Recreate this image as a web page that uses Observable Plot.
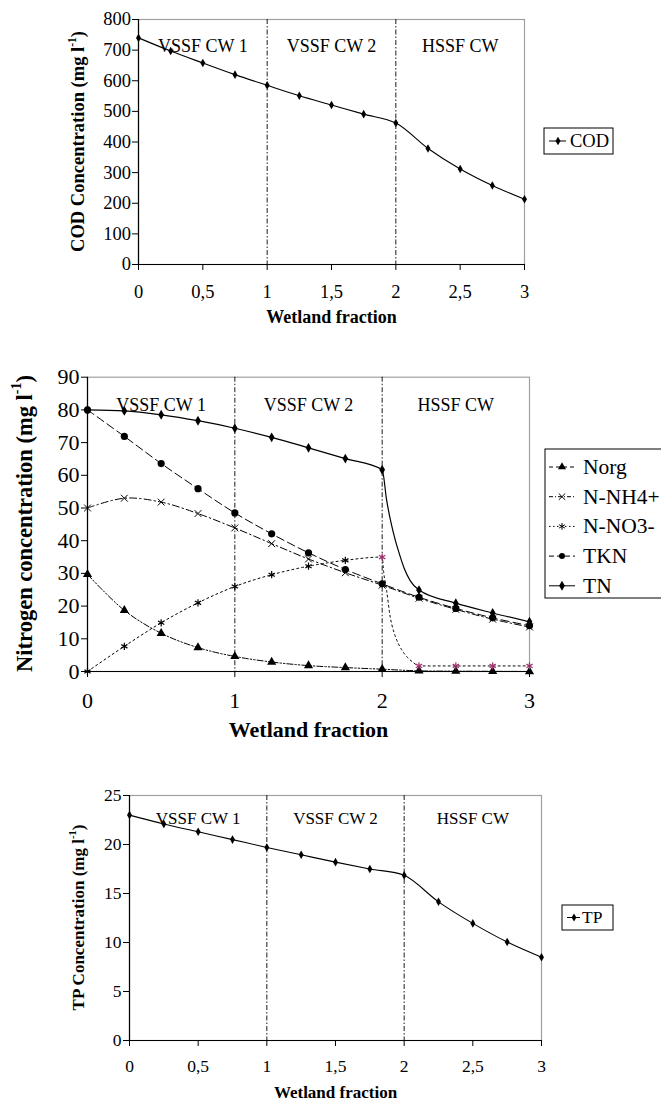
<!DOCTYPE html>
<html><head><meta charset="utf-8">
<script src="https://cdn.jsdelivr.net/npm/d3@7"></script>
<script src="https://cdn.jsdelivr.net/npm/@observablehq/plot@0.6"></script>
<style>
html,body{margin:0;padding:0;background:#fff;overflow:hidden}
#wrap{position:relative;width:661px;height:1109px;overflow:hidden}
.panel{position:absolute;left:0}
.panel svg{overflow:hidden}
</style>
</head><body><div id="wrap"></div>
<script>
// ---------- data ----------
const fraction = [0, 0.25, 0.5, 0.75, 1, 1.25, 1.5, 1.75, 2, 2.25, 2.5, 2.75, 3];
const cod  = [740, 697, 658, 620, 585, 551, 521, 491, 462, 379, 312, 258, 213];
const tp   = [23.0, 22.1, 21.3, 20.5, 19.7, 18.95, 18.2, 17.5, 16.85, 14.15, 11.95, 10.05, 8.5];
const norg = [29.7, 18.7, 11.7, 7.3, 4.6, 2.9, 1.8, 1.2, 0.7, 0.2, 0.1, 0.05, 0];
const nh4  = [50.0, 53.0, 51.8, 48.3, 43.9, 39.1, 34.4, 30.2, 26.4, 22.4, 19.0, 16.0, 13.6];
const no3  = [0, 7.7, 14.9, 21.0, 26.0, 29.6, 32.2, 34.0, 35.0, 1.7, 1.7, 1.7, 1.7];
const tkn  = [80.0, 71.9, 63.6, 55.9, 48.5, 42.1, 36.3, 31.2, 26.8, 22.7, 19.3, 16.4, 14.0];
const tn   = [80.0, 79.7, 78.5, 76.7, 74.4, 71.6, 68.4, 65.1, 61.7, 24.9, 20.9, 17.9, 15.2];

// curve readings at the HSSF inlet (between fraction 2 and 2.25)
const inletTnX  = [2.03, 2.06, 2.09, 2.12, 2.15, 2.19];
const inletTnY  = [52.5, 45.5, 40.0, 35.5, 31.5, 27.8];
const inletNo3X = [2.01, 2.03, 2.055, 2.08, 2.10, 2.13, 2.17, 2.21];
const inletNo3Y = [30.5, 24.8, 16.6, 12.0, 9.5, 6.8, 4.4, 2.8];

const regionLabels  = ["VSSF CW 1", "VSSF CW 2", "HSSF CW"];
const regionCenters = [0.5, 1.5, 2.5];
const boundaries    = [1, 2];
const no3HighlightFrom = 2;

const xTicksFine   = [0, 0.5, 1, 1.5, 2, 2.5, 3];
const xTicksCoarse = [0, 1, 2, 3];
const codTicks = [0, 100, 200, 300, 400, 500, 600, 700, 800];
const nTicks   = [0, 10, 20, 30, 40, 50, 60, 70, 80, 90];
const tpTicks  = [0, 5, 10, 15, 20, 25];

const xTitle = "Wetland fraction";
const codTitle = ["COD Concentration (mg l", "-1", ")"];
const nTitle   = ["Nitrogen concentration (mg l", "-1", ")"];
const tpTitle  = ["TP Concentration (mg l", "-1", ")"];

// ---------- helpers ----------
const FONT = "'Liberation Serif', 'Times New Roman', serif";
const comma = d => String(d).replace(".", ",");
const MAG = "#a0306e";

function table(cols) {
  return fraction.map((x, i) => {
    const r = {x, i};
    for (const k in cols) r[k] = cols[k][i];
    return r;
  });
}
function withInlet(values, ix, iy) {
  const pts = fraction.map((x, i) => ({x, y: values[i]}));
  ix.forEach((x, k) => pts.push({x, y: iy[k]}));
  return pts.sort((a, b) => a.x - b.x);
}

function basePanel({height, mt, mb, ml, mr, xTicks, yDomain, yTicks, tickFont, regionFont, regionDy, xTitleFont, xTitleDy, tickPadX, tickPadY, marks}) {
  return Plot.plot({
    width: 661, height,
    marginTop: mt, marginBottom: mb, marginLeft: ml, marginRight: mr,
    style: {fontFamily: FONT, fontSize: tickFont + "px", color: "black", background: "white"},
    x: {domain: [0, 3]},
    y: {domain: yDomain},
    marks: [
      Plot.frame({stroke: "#a0a0a0", strokeWidth: 1.2}),
      Plot.ruleX(boundaries, {stroke: "black", strokeWidth: 0.9, strokeDasharray: "5,2,1.5,2"}),
      Plot.text(regionLabels, {x: (d, i) => regionCenters[i], frameAnchor: "top", dy: regionDy, text: d => d, fontSize: regionFont, fill: "black"}),
      ...marks,
      Plot.ruleX([0], {stroke: "black", strokeWidth: 1.2}),
      Plot.ruleY([yDomain[0]], {stroke: "black", strokeWidth: 1.2}),
      Plot.axisX({ticks: xTicks, tickFormat: comma, tickSize: 6, tickPadding: tickPadX, label: null, fontSize: tickFont, stroke: "black"}),
      Plot.axisY({ticks: yTicks, tickSize: 6, tickPadding: tickPadY, label: null, fontSize: tickFont, stroke: "black"}),
      Plot.text([xTitle], {frameAnchor: "bottom", dy: xTitleDy, text: d => d, fontWeight: "bold", fontSize: xTitleFont, fill: "black"})
    ]
  });
}

function addYTitle(svg, parts, {cx, cy, size}) {
  const t = d3.select(svg).append("text")
    .attr("transform", `translate(${cx},${cy}) rotate(-90)`)
    .attr("text-anchor", "middle").attr("dominant-baseline", "middle")
    .attr("font-family", FONT).attr("font-weight", "bold").attr("font-size", size).attr("fill", "black");
  t.append("tspan").text(parts[0]);
  t.append("tspan").attr("font-size", size * 0.62).attr("dy", -size * 0.38).text(parts[1]);
  t.append("tspan").attr("dy", size * 0.38).text(parts[2]);
}

function addLegend(svg, {x, y, w, h, items, font, rowH, firstY, l0, l1, mx, tx}) {
  const g = d3.select(svg).append("g").attr("text-anchor", "start");
  g.append("rect").attr("x", x).attr("y", y).attr("width", w).attr("height", h)
    .attr("fill", "white").attr("stroke", "black").attr("stroke-width", 1);
  items.forEach((it, k) => {
    const cy = firstY + k * rowH;
    g.append("line").attr("x1", x + l0).attr("x2", x + l1).attr("y1", cy).attr("y2", cy)
      .attr("stroke", "black").attr("stroke-width", 1).attr("stroke-dasharray", it.dash || null);
    const sym = d3.symbol(it.symbol, Math.PI * it.r * it.r)();
    g.append("path").attr("d", sym).attr("transform", `translate(${x + mx},${cy})`)
      .attr("fill", it.stroked ? "none" : "black").attr("stroke", it.stroked ? "black" : "none").attr("stroke-width", 1);
    g.append("text").attr("x", x + tx).attr("y", cy).attr("dy", "0.33em").attr("text-anchor", "start")
      .attr("font-family", FONT).attr("font-size", font).attr("fill", "black").text(it.label);
  });
}

const wrap = document.getElementById("wrap");
function place(svg, top) {
  const d = document.createElement("div");
  d.className = "panel"; d.style.top = top + "px";
  d.appendChild(svg); wrap.appendChild(d);
}

// ---------- COD ----------
{
  const rows = table({cod});
  const svg = basePanel({
    height: 340, mt: 19, mb: 76, ml: 138, mr: 137,
    xTicks: xTicksFine, yDomain: [0, 800], yTicks: codTicks,
    tickFont: 18.5, regionFont: 18, regionDy: 20, xTitleFont: 18, xTitleDy: 58, tickPadX: 14, tickPadY: 1.5,
    marks: [
      Plot.line(rows, {x: "x", y: "cod", curve: "catmull-rom", stroke: "black", strokeWidth: 1.1}),
      Plot.dot(rows, {x: "x", y: "cod", symbol: "diamond", r: 2.6, fill: "black"})
    ]
  });
  addYTitle(svg, codTitle, {cx: 80, cy: 141.5, size: 18.5});
  addLegend(svg, {x: 544, y: 128, w: 69, h: 26, font: 18.5, rowH: 0, firstY: 141,
    l0: 5, l1: 22, mx: 14, tx: 26, items: [{label: "COD", symbol: d3.symbolDiamond, r: 2.6}]});
  place(svg, 0);
}

// ---------- Nitrogen ----------
{
  const rows = table({norg, nh4, no3, tkn, tn});
  const tnLine  = withInlet(tn, inletTnX, inletTnY);
  const no3Line = withInlet(no3, inletNo3X, inletNo3Y);
  const svg = basePanel({
    height: 410, mt: 36.7, mb: 79, ml: 87, mr: 132,
    xTicks: xTicksCoarse, yDomain: [0, 90], yTicks: nTicks,
    tickFont: 22, regionFont: 18, regionDy: 20.6, xTitleFont: 22, xTitleDy: 65, tickPadX: 15, tickPadY: 2,
    marks: [
      Plot.line(rows, {x: "x", y: "norg", curve: "catmull-rom", stroke: "black", strokeWidth: 1, strokeDasharray: "6,2,1.5,2,1.5,2"}),
      Plot.line(rows, {x: "x", y: "nh4", curve: "catmull-rom", stroke: "black", strokeWidth: 1, strokeDasharray: "7,3,1.5,3"}),
      Plot.line(no3Line, {x: "x", y: "y", curve: "monotone-x", stroke: "black", strokeWidth: 1, strokeDasharray: "2,3"}),
      Plot.line(rows, {x: "x", y: "tkn", curve: "catmull-rom", stroke: "black", strokeWidth: 1, strokeDasharray: "8,4"}),
      Plot.line(tnLine, {x: "x", y: "y", curve: "monotone-x", stroke: "black", strokeWidth: 1.2}),
      Plot.dot(rows, {x: "x", y: "norg", symbol: "triangle", r: 3.4, fill: "black"}),
      Plot.dot(rows, {x: "x", y: "nh4", symbol: "times", r: 3.2, stroke: "black", strokeWidth: 1}),
      Plot.dot(rows, {x: "x", y: "no3", symbol: "asterisk", r: 3.4, stroke: d => d.x >= no3HighlightFrom ? MAG : "black", strokeWidth: 1.2}),
      Plot.dot(rows, {x: "x", y: "tkn", symbol: "circle", r: 3.6, fill: "black"}),
      Plot.dot(rows, {x: "x", y: "tn", symbol: "diamond", r: 3, fill: "black"})
    ]
  });
  addYTitle(svg, nTitle, {cx: 27, cy: 183.5, size: 22.5});
  addLegend(svg, {x: 545, y: 109, w: 140, h: 149, font: 21.5, rowH: 29.7, firstY: 127,
    l0: 4, l1: 30, mx: 17, tx: 38, items: [
      {label: "Norg", symbol: d3.symbolTriangle, r: 3, dash: "4,3"},
      {label: "N-NH4+", symbol: d3.symbolTimes, r: 3, dash: "4,2,1,2", stroked: true},
      {label: "N-NO3-", symbol: d3.symbolAsterisk, r: 3.2, dash: "1.5,2.5", stroked: true},
      {label: "TKN", symbol: d3.symbolCircle, r: 3, dash: "5,3"},
      {label: "TN", symbol: d3.symbolDiamond, r: 3}
    ]});
  place(svg, 340);
}

// ---------- TP ----------
{
  const rows = table({tp});
  const svg = basePanel({
    height: 359, mt: 45, mb: 69, ml: 129, mr: 120,
    xTicks: xTicksFine, yDomain: [0, 25], yTicks: tpTicks,
    tickFont: 17.5, regionFont: 17, regionDy: 16.7, xTitleFont: 17, xTitleDy: 57, tickPadX: 13.5, tickPadY: 2,
    marks: [
      Plot.line(rows, {x: "x", y: "tp", curve: "catmull-rom", stroke: "black", strokeWidth: 1.1}),
      Plot.dot(rows, {x: "x", y: "tp", symbol: "diamond", r: 2.6, fill: "black"})
    ]
  });
  addYTitle(svg, tpTitle, {cx: 80, cy: 167.5, size: 17});
  addLegend(svg, {x: 562, y: 155, w: 51, h: 25, font: 17.5, rowH: 0, firstY: 167.5,
    l0: 5, l1: 18, mx: 12, tx: 20, items: [{label: "TP", symbol: d3.symbolDiamond, r: 2.5}]});
  place(svg, 750);
}
</script>
</body></html>
